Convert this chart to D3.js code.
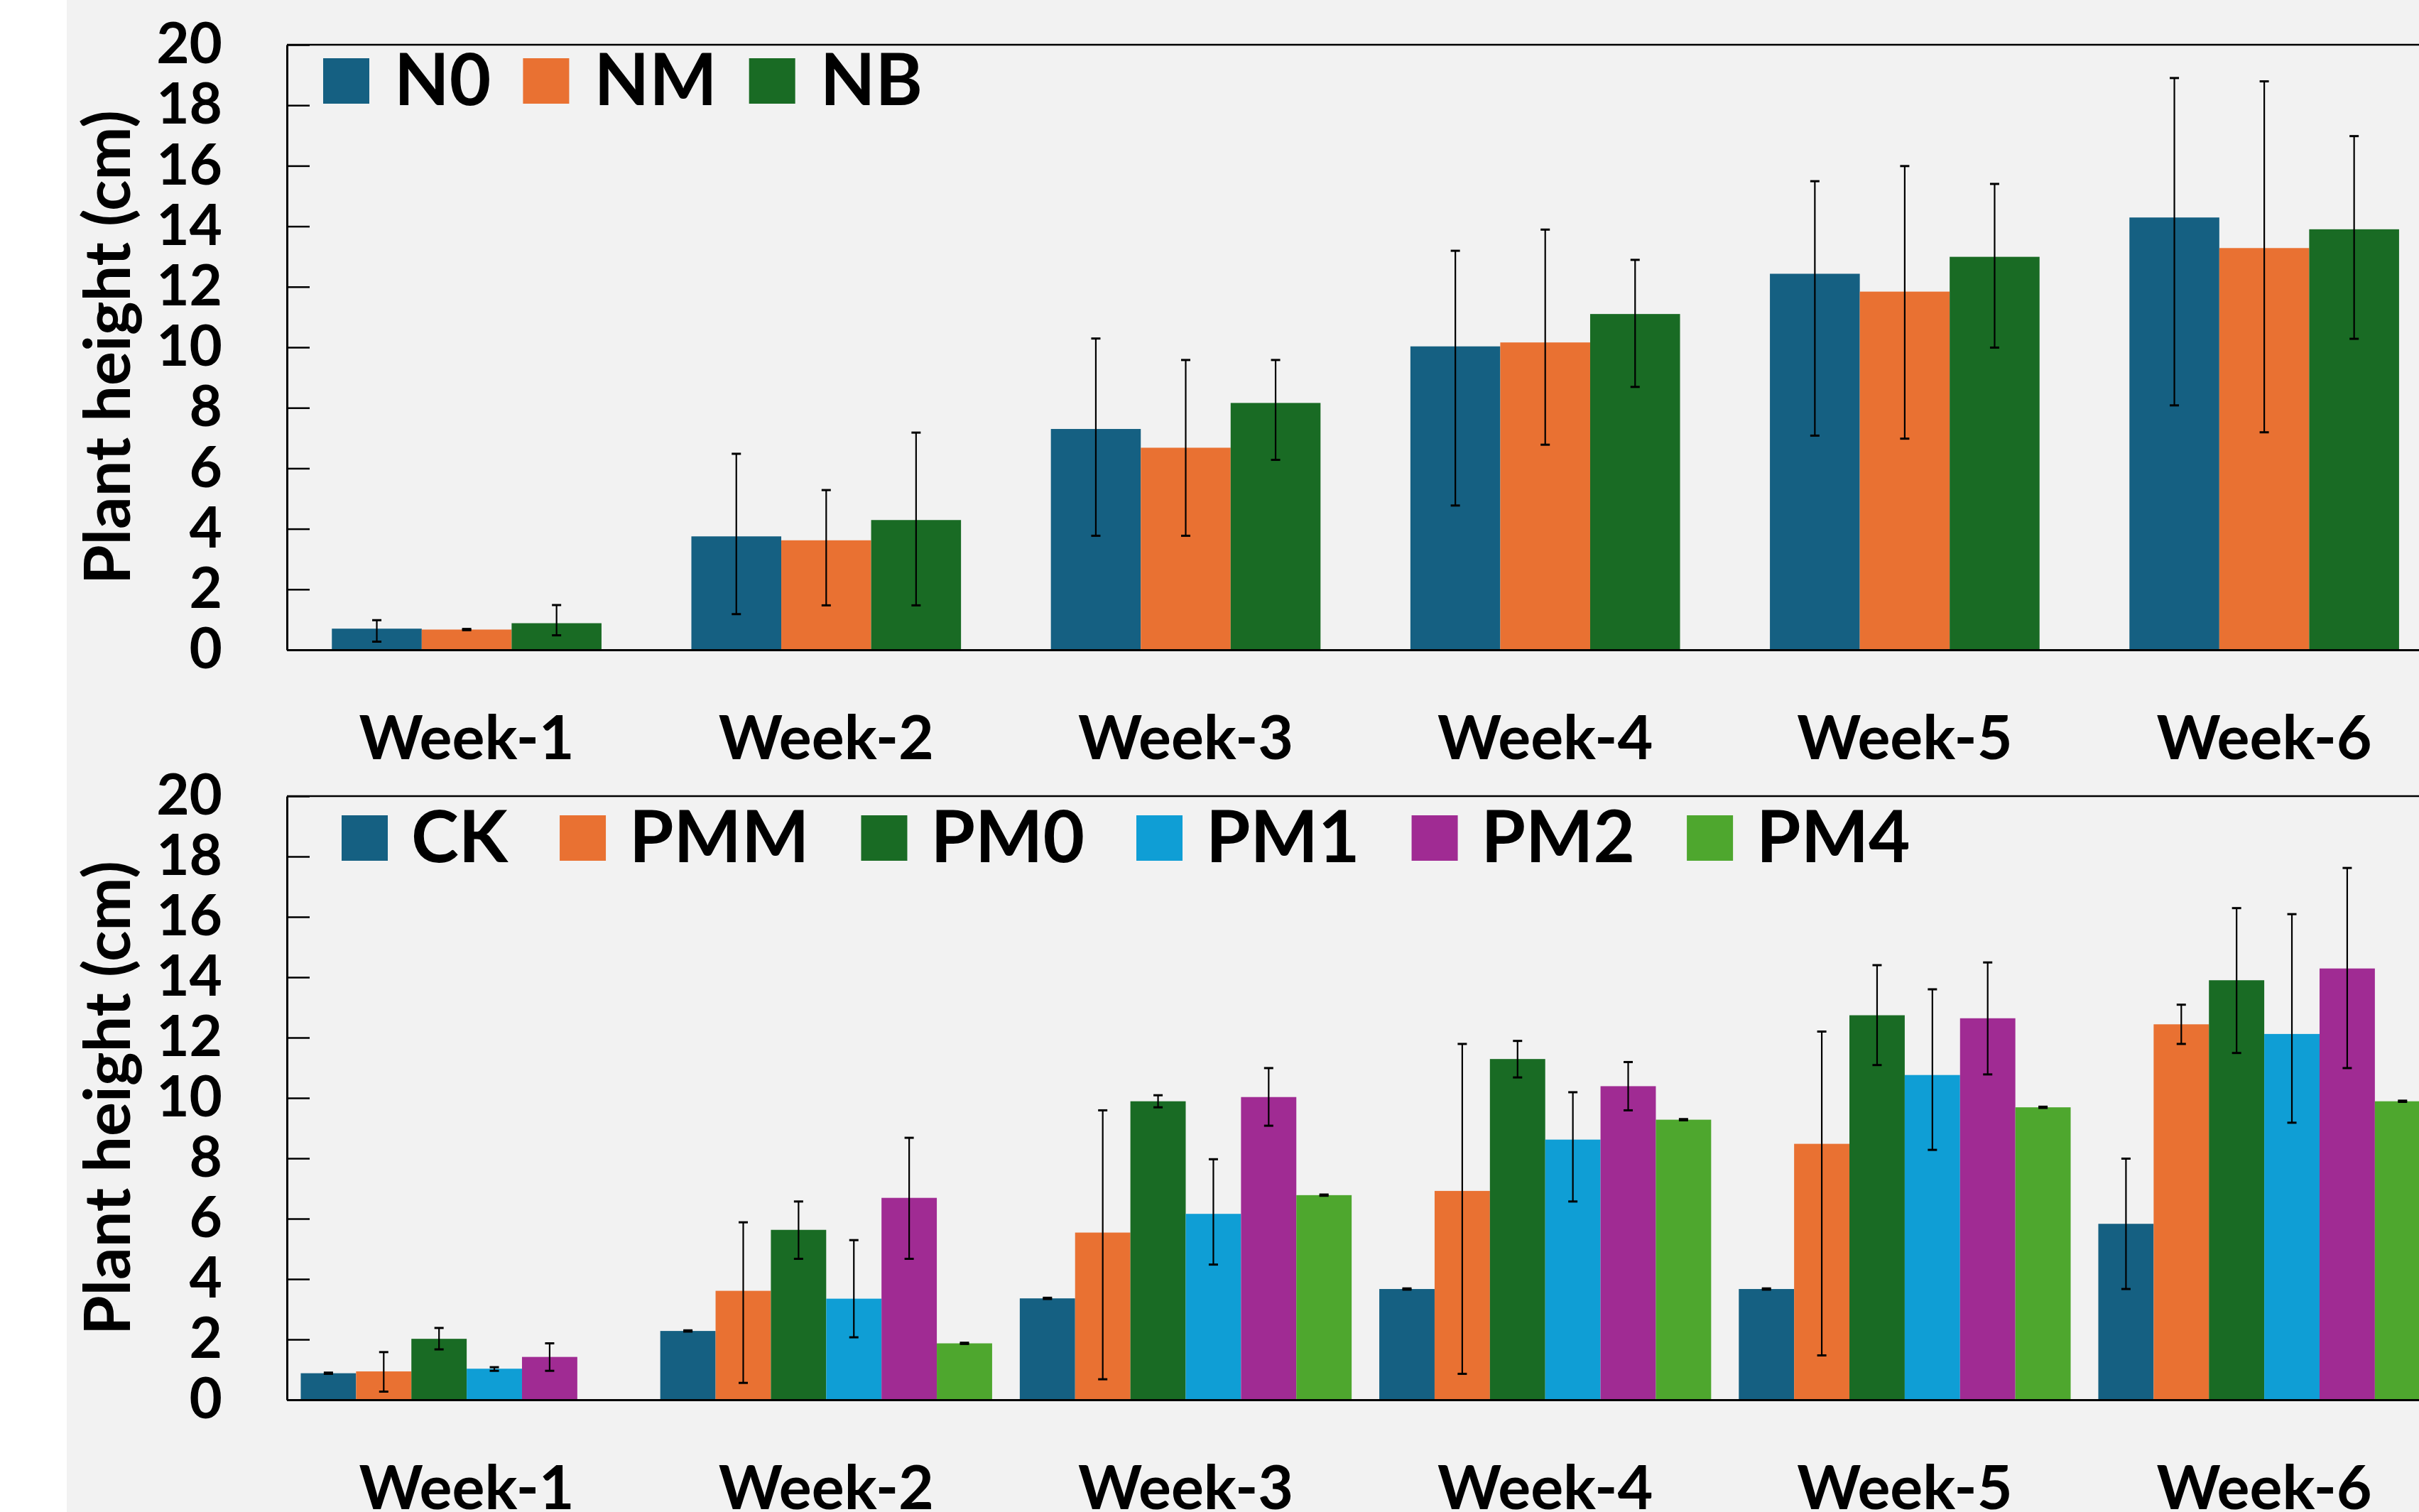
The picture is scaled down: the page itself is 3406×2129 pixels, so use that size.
<!DOCTYPE html>
<html>
<head>
<meta charset="utf-8">
<script src="https://cdn.jsdelivr.net/npm/d3@7"></script>
<style>
  html, body { margin: 0; padding: 0; background: #ffffff; overflow: hidden; }
  svg { display: block; }
  text { font-family: Lato, "Open Sans", sans-serif; font-weight: 700; fill: #000; }
</style>
</head>
<body>
<script>
// ---------- DATA ----------
const weeks = ["Week-1", "Week-2", "Week-3", "Week-4", "Week-5", "Week-6"];
const yTicks = [0, 2, 4, 6, 8, 10, 12, 14, 16, 18, 20];

// Top panel series
const topSeries = ["N0", "NM", "NB"];
const topColors = ["#156082", "#E97132", "#196B24"];
const n0Values = [0.70, 3.75, 7.30, 10.03, 12.43, 14.29];
const n0ErrUp = [0.28, 2.73, 2.99, 3.16, 3.06, 4.61];
const n0ErrDown = [0.43, 2.57, 3.53, 5.26, 5.35, 6.21];
const nmValues = [0.67, 3.62, 6.68, 10.16, 11.84, 13.28];
const nmErrUp = [0.02, 1.66, 2.90, 3.73, 4.15, 5.51];
const nmErrDown = [0.02, 2.15, 2.91, 3.38, 4.86, 6.09];
const nbValues = [0.88, 4.29, 8.16, 11.10, 12.99, 13.90];
const nbErrUp = [0.60, 2.89, 1.42, 1.79, 2.41, 3.08];
const nbErrDown = [0.40, 2.82, 1.88, 2.41, 3.00, 3.62];

// Bottom panel series
const bottomSeries = ["CK", "PMM", "PM0", "PM1", "PM2", "PM4"];
const bottomColors = ["#156082", "#E97132", "#196B24", "#0F9ED5", "#A02B93", "#4EA72E"];
const ckValues = [0.88, 2.28, 3.36, 3.67, 3.67, 5.83];
const ckErrUp = [0.02, 0.02, 0.02, 0.02, 0.02, 2.16];
const ckErrDown = [0.02, 0.02, 0.02, 0.02, 0.02, 2.16];
const pmmValues = [0.94, 3.61, 5.54, 6.92, 8.48, 12.44];
const pmmErrUp = [0.64, 2.27, 4.05, 4.87, 3.72, 0.65];
const pmmErrDown = [0.67, 3.05, 4.86, 6.06, 7.01, 0.65];
const pm0Values = [2.02, 5.63, 9.89, 11.29, 12.74, 13.90];
const pm0ErrUp = [0.36, 0.94, 0.20, 0.60, 1.66, 2.39];
const pm0ErrDown = [0.35, 0.96, 0.20, 0.61, 1.65, 2.41];
const pm1Values = [1.03, 3.35, 6.16, 8.62, 10.76, 12.12];
const pm1ErrUp = [0.05, 1.94, 1.81, 1.57, 2.84, 3.97];
const pm1ErrDown = [0.07, 1.28, 1.68, 2.05, 2.48, 2.94];
const pm2Values = [1.42, 6.69, 10.03, 10.39, 12.64, 14.29];
const pm2ErrUp = [0.45, 1.99, 0.96, 0.80, 1.85, 3.33];
const pm2ErrDown = [0.46, 2.02, 0.95, 0.80, 1.86, 3.30];
const pm4Values = [0, 1.87, 6.78, 9.28, 9.69, 9.89];
const pm4ErrUp = [0, 0.02, 0.02, 0.02, 0.02, 0.02];
const pm4ErrDown = [0, 0.02, 0.02, 0.02, 0.02, 0.02];

const yLabel = "Plant height (cm)";

// ---------- LAYOUT ----------
const W = 3406, H = 2129;
const plotLeft = 404, bandStep = 506.2;
const plotRight = plotLeft + bandStep * weeks.length;

const svg = d3.select("body").append("svg")
  .attr("width", W).attr("height", H)
  .attr("viewBox", `0 0 ${W} ${H}`);

svg.append("rect").attr("x", 0).attr("y", 0).attr("width", W).attr("height", H).attr("fill", "#ffffff");
svg.append("rect").attr("x", 94).attr("y", 0).attr("width", W - 94).attr("height", H).attr("fill", "#f2f2f2");

const x = d3.scaleBand().domain(weeks).range([plotLeft, plotRight]).paddingInner(0).paddingOuter(0);

function drawPanel(cfg) {
  const g = svg.append("g");
  const y = d3.scaleLinear().domain([0, 20]).range([cfg.bottom, cfg.top]);
  const xi = d3.scaleBand().domain(cfg.series).range([0, x.bandwidth()])
    .paddingInner(0).paddingOuter(cfg.outerPad);

  // top border line
  g.append("line")
    .attr("x1", plotLeft).attr("x2", plotRight)
    .attr("y1", y(20)).attr("y2", y(20))
    .attr("stroke", "#000").attr("stroke-width", 2.5);

  // bars + error bars
  cfg.series.forEach((s, si) => {
    const vals = cfg.values[si];
    const up = cfg.errUp[si];
    const dn = cfg.errDown[si];
    const col = cfg.colors[si];
    const bg = g.append("g");
    bg.selectAll("rect").data(weeks.map((w, i) => ({ w, v: vals[i] })))
      .join("rect")
      .attr("x", d => x(d.w) + xi(s))
      .attr("y", d => y(d.v))
      .attr("width", xi.bandwidth())
      .attr("height", d => y(0) - y(d.v))
      .attr("fill", col);

    const ed = weeks.map((w, i) => ({ w, v: vals[i], hi: vals[i] + up[i], lo: vals[i] - dn[i] }))
      .filter(d => d.v > 0);
    const eg = g.append("g").attr("stroke", "#000").attr("stroke-width", 2.2);
    const cx = d => x(d.w) + xi(s) + xi.bandwidth() / 2;
    eg.selectAll("line.v").data(ed).join("line").attr("class", "v")
      .attr("x1", cx).attr("x2", cx)
      .attr("y1", d => y(d.hi)).attr("y2", d => y(d.lo));
    eg.selectAll("line.h").data(ed).join("line").attr("class", "h")
      .attr("x1", d => cx(d) - 6.5).attr("x2", d => cx(d) + 6.5)
      .attr("y1", d => y(d.hi)).attr("y2", d => y(d.hi)).attr("stroke-width", 3);
    eg.selectAll("line.l").data(ed).join("line").attr("class", "l")
      .attr("x1", d => cx(d) - 6.5).attr("x2", d => cx(d) + 6.5)
      .attr("y1", d => y(d.lo)).attr("y2", d => y(d.lo)).attr("stroke-width", 3);
  });

  // left axis
  const ya = g.append("g").attr("transform", `translate(${plotLeft},0)`)
    .call(d3.axisLeft(y).tickValues(yTicks).tickSizeInner(-32).tickSizeOuter(0).tickPadding(91));
  ya.select(".domain").attr("stroke", "#000").attr("stroke-width", 3);
  ya.selectAll(".tick line").attr("stroke", "#000").attr("stroke-width", 2.5);
  ya.selectAll(".tick text").attr("font-size", 80).attr("font-family", "Lato, sans-serif")
    .attr("font-weight", 700).attr("fill", "#000");

  // bottom axis
  const xa = g.append("g").attr("transform", `translate(0,${cfg.bottom})`)
    .call(d3.axisBottom(x).tickSize(0).tickPadding(93));
  xa.select(".domain").attr("stroke", "#000").attr("stroke-width", 3);
  xa.selectAll(".tick text").attr("font-size", 86).attr("font-family", "Lato, sans-serif")
    .attr("font-weight", 700).attr("fill", "#000");

  // y-axis title
  g.append("text")
    .attr("transform", `translate(183,${(cfg.top + cfg.bottom) / 2}) rotate(-90)`)
    .attr("text-anchor", "middle")
    .attr("font-size", 90)
    .text(yLabel);

  // legend
  const lg = g.append("g");
  let lx = cfg.legendX;
  cfg.series.forEach((s, si) => {
    lg.append("rect").attr("x", lx).attr("y", cfg.legendY - 66)
      .attr("width", 65).attr("height", 64).attr("fill", cfg.colors[si]);
    const t = lg.append("text").attr("x", lx + cfg.textOffset).attr("y", cfg.legendY)
      .attr("font-size", 101).text(s);
    lx = lx + cfg.textOffset + t.node().getComputedTextLength() + cfg.legendGap;
  });
}

drawPanel({
  top: 63, bottom: 915, series: topSeries, colors: topColors, outerPad: 0.5,
  values: [n0Values, nmValues, nbValues],
  errUp: [n0ErrUp, nmErrUp, nbErrUp],
  errDown: [n0ErrDown, nmErrDown, nbErrDown],
  legendX: 455, legendY: 148, legendGap: 45, textOffset: 100
});

drawPanel({
  top: 1121, bottom: 1971, series: bottomSeries, colors: bottomColors, outerPad: 0.25,
  values: [ckValues, pmmValues, pm0Values, pm1Values, pm2Values, pm4Values],
  errUp: [ckErrUp, pmmErrUp, pm0ErrUp, pm1ErrUp, pm2ErrUp, pm4ErrUp],
  errDown: [ckErrDown, pmmErrDown, pm0ErrDown, pm1ErrDown, pm2ErrDown, pm4ErrDown],
  legendX: 481, legendY: 1214, legendGap: 73, textOffset: 98
});
</script>
</body>
</html>
